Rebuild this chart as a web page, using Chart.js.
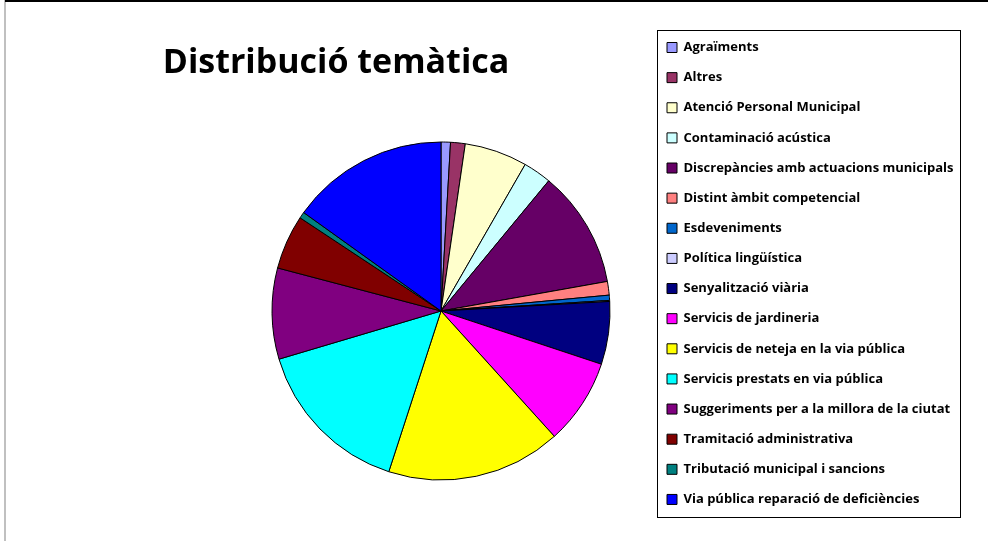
<!DOCTYPE html>
<html>
<head>
<meta charset="utf-8">
<script src="https://cdn.jsdelivr.net/npm/chart.js@4"></script>
<style>
  body { margin: 0; background: #fff; }
  canvas { display: block; }
</style>
</head>
<body>
<canvas id="pieChart" width="988" height="541"></canvas>
<script>
// categories, in legend order
const labels = [
  "Agraïments",
  "Altres",
  "Atenció Personal Municipal",
  "Contaminació acústica",
  "Discrepàncies amb actuacions municipals",
  "Distint àmbit competencial",
  "Esdeveniments",
  "Política lingüística",
  "Senyalització viària",
  "Servicis de jardineria",
  "Servicis de neteja en la via pública",
  "Servicis prestats en via pública",
  "Suggeriments per a la millora de la ciutat",
  "Tramitació administrativa",
  "Tributació municipal i sancions",
  "Via pública reparació de deficiències"
];

// share of each category (%)
const values = [0.9, 1.4, 6.0, 2.7, 11.2, 1.3, 0.5, 0.1, 6.0, 8.2, 16.7, 15.4, 8.7, 5.2, 0.6, 15.1];

const colors = [
  "#9999FF", "#993366", "#FFFFCC", "#CCFFFF", "#660066", "#FF8080",
  "#0066CC", "#CCCCFF", "#000080", "#FF00FF", "#FFFF00", "#00FFFF",
  "#800080", "#800000", "#008080", "#0000FF"
];

const titleSize = 34;
const legendSize = 13;
const legendGap = 17.13;

// put pie, title and legend where the original sheet had them
const placement = {
  id: "placement",
  afterLayout(chart) {
    const cx = 441, cy = 311, r = 169.5;
    chart.chartArea = {
      left: cx - r, top: cy - r, right: cx + r, bottom: cy + r,
      width: 2 * r, height: 2 * r
    };
    const t = chart.titleBlock;
    if (t) {
      t.left = 161; t.right = 511;
      t.top = 63 - titleSize * 1.2 / 2; t.bottom = t.top + titleSize * 1.2;
    }
    const lg = chart.legend;
    if (lg) {
      lg.left = 667 - legendGap; lg.right = 961;
      lg.top = 47.5 - legendSize / 2 - legendGap; lg.bottom = 541;
    }
  },
  beforeDraw(chart) {
    const ctx = chart.ctx;
    ctx.save();
    // sheet border lines
    ctx.fillStyle = "#c0c0c0";
    ctx.fillRect(4, 0, 2, 541);
    ctx.fillStyle = "#000";
    ctx.fillRect(5, 0, 983, 2);
    // legend frame
    ctx.strokeStyle = "#000";
    ctx.lineWidth = 1;
    ctx.strokeRect(657.5, 30.5, 303, 487);
    ctx.restore();
  }
};

const ctx = document.getElementById("pieChart").getContext("2d");
const pieChart = new Chart(ctx, {
  type: "pie",
  data: {
    labels: labels,
    datasets: [{
      data: values,
      backgroundColor: colors,
      borderColor: "#000",
      borderWidth: 1,
      clip: false
    }]
  },
  options: {
    responsive: false,
    animation: false,
    events: [],
    plugins: {
      title: {
        display: true,
        text: "Distribució temàtica",
        color: "#000",
        padding: 0,
        font: { family: "Open Sans", size: titleSize, weight: "bold" }
      },
      legend: {
        display: true,
        position: "right",
        align: "start",
        labels: {
          color: "#000",
          boxWidth: 10,
          boxHeight: 10,
          padding: legendGap,
          font: { family: "Open Sans", size: legendSize, weight: "bold" }
        }
      },
      tooltip: { enabled: false }
    }
  },
  plugins: [placement]
});
</script>
</body>
</html>
